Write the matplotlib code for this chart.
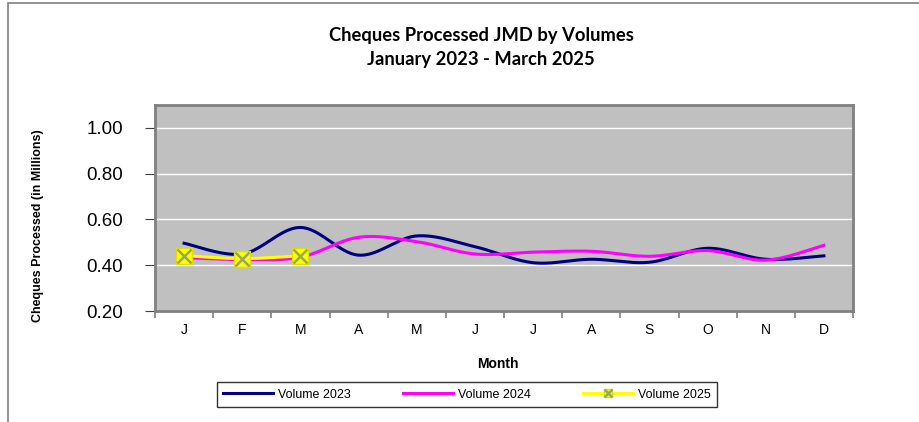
import numpy as np
import matplotlib.pyplot as plt
from matplotlib.patches import Rectangle
from matplotlib.legend_handler import HandlerTuple

months = ['J', 'F', 'M', 'A', 'M', 'J', 'J', 'A', 'S', 'O', 'N', 'D']
vol_2023 = [0.496, 0.449, 0.565, 0.444, 0.528, 0.481, 0.411, 0.426, 0.413, 0.474, 0.426, 0.441]
vol_2024 = [0.433, 0.425, 0.435, 0.522, 0.503, 0.449, 0.457, 0.461, 0.439, 0.464, 0.422, 0.487]
vol_2025 = [0.442, 0.429, 0.441]


def smooth(xs, ys, n=40):
    # Excel-like smoothed line: cubic bezier through every point
    xs = np.asarray(xs, float)
    ys = np.asarray(ys, float)
    px, py = [], []
    for i in range(len(xs) - 1):
        x0, y0 = xs[max(i - 1, 0)], ys[max(i - 1, 0)]
        x1, y1 = xs[i], ys[i]
        x2, y2 = xs[i + 1], ys[i + 1]
        x3, y3 = xs[min(i + 2, len(xs) - 1)], ys[min(i + 2, len(xs) - 1)]
        c1x, c1y = x1 + (x2 - x0) / 6, y1 + (y2 - y0) / 6
        c2x, c2y = x2 - (x3 - x1) / 6, y2 - (y3 - y1) / 6
        t = np.linspace(0, 1, n)
        a, b, c, d = (1 - t) ** 3, 3 * (1 - t) ** 2 * t, 3 * (1 - t) * t ** 2, t ** 3
        px.extend(a * x1 + b * c1x + c * c2x + d * x2)
        py.extend(a * y1 + b * c1y + c * c2y + d * y2)
    return px, py


fig = plt.figure(figsize=(9.19, 4.22), dpi=100)
fig.patches.append(Rectangle((8 / 919, -0.1), 1.2, (422 - 3) / 422 + 0.1,
                             transform=fig.transFigure, fill=False,
                             edgecolor='#7f7f7f', linewidth=1.2))

ax = fig.add_axes([155 / 919, (422 - 311) / 422, (853 - 155) / 919, (311 - 105) / 422])
ax.set_facecolor('#c0c0c0')

x = np.arange(len(months))
sx, sy = smooth(x, vol_2023)
l23, = ax.plot(sx, sy, color='#000080', linewidth=2.2, label='Volume 2023')
sx, sy = smooth(x, vol_2024)
l24, = ax.plot(sx, sy, color='#ff00ff', linewidth=2.2, label='Volume 2024')
x25 = x[:len(vol_2025)]
sx, sy = smooth(x25, vol_2025)
ax.plot(sx, sy, color='#ffff00', linewidth=2.2, zorder=3)
ax.plot(x25, vol_2025, linestyle='none', marker='s', markersize=12,
        markerfacecolor='#ffff00', markeredgecolor='#e0e000', zorder=4)
ax.plot(x25, vol_2025, linestyle='none', marker='x', markersize=10,
        markeredgewidth=1.8, color='#9aa85a', zorder=5)

ax.set_xlim(-0.5, 11.5)
ax.set_ylim(0.2, 1.1)
ax.set_yticks([0.2, 0.4, 0.6, 0.8, 1.0])
ax.set_yticklabels(['0.20', '0.40', '0.60', '0.80', '1.00'], fontsize=13.5,
                   family='Liberation Sans')
ax.yaxis.grid(True, color='white', linewidth=1)
ax.set_axisbelow(True)
ax.set_xticks(x)
ax.set_xticklabels(months, fontsize=10, family='Liberation Sans')
ax.set_xticks(np.arange(-0.5, 12, 1), minor=True)
ax.tick_params(axis='x', which='major', length=0, pad=9)
ax.tick_params(axis='x', which='minor', length=5, color='#7f7f7f', width=1.2)
ax.tick_params(axis='y', length=7, color='#404040', pad=16)
for s in ax.spines.values():
    s.set_color('#808080')
    s.set_linewidth(2)

fig.text(481 / 919, 1 - 36 / 422, 'Cheques Processed JMD by Volumes', ha='center', va='center',
         fontsize=13.2, fontweight='bold', family='Lato')
fig.text(481 / 919, 1 - 60 / 422, 'January 2023 - March 2025', ha='center', va='center',
         fontsize=13.2, fontweight='bold', family='Lato')
fig.text(38 / 919, 1 - 226 / 422, 'Cheques Processed (in Millions)', rotation=90,
         ha='center', va='center', fontsize=9, fontweight='bold', family='Liberation Sans')
fig.text(498 / 919, 1 - 364 / 422, 'Month', ha='center', va='center',
         fontsize=10, fontweight='bold', family='Liberation Sans')

# legend handle for 2025: yellow line with a small x marker on a yellow square
ly = ax.plot([], [], color='#ffff00', linewidth=2.2)[0]
lsq = ax.plot([], [], linestyle='none', marker='s', markersize=6,
              markerfacecolor='#ffff00', markeredgecolor='#e0e000')[0]
lx = ax.plot([], [], linestyle='none', marker='x', markersize=6, markeredgewidth=1.8,
             color='#9aa85a')[0]
leg = fig.legend([l23, l24, (ly, lsq, lx)], ['Volume 2023', 'Volume 2024', 'Volume 2025'],
                 handler_map={tuple: HandlerTuple(ndivide=1, pad=0)},
                 loc='center', bbox_to_anchor=(467 / 919, 1 - 394.5 / 422), ncol=3,
                 prop={'family': 'Liberation Sans', 'size': 9}, frameon=True, fancybox=False,
                 handlelength=4.0, columnspacing=4.2, borderpad=0.5, handletextpad=0.4)
leg.get_frame().set_edgecolor('black')
leg.get_frame().set_linewidth(1)

fig.savefig('out.png', dpi=100)
